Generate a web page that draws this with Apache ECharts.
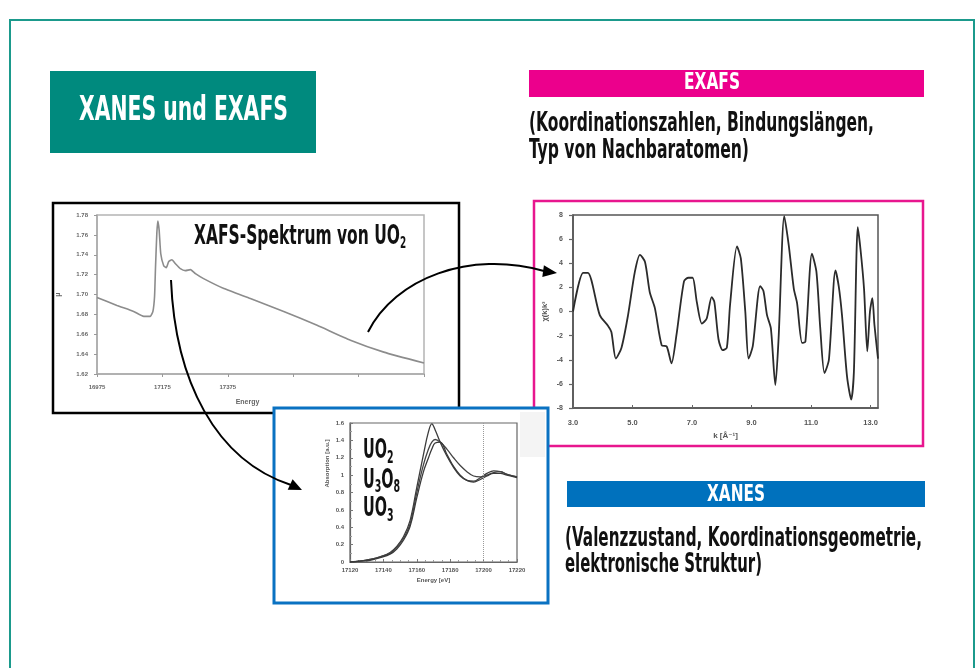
<!DOCTYPE html>
<html>
<head>
<meta charset="utf-8">
<script src="https://cdn.jsdelivr.net/npm/echarts@6/dist/echarts.min.js"></script>
<style>
  html, body { margin: 0; padding: 0; background: #fff; }
  #chart { width: 978px; height: 668px; }
</style>
</head>
<body>
<div id="chart"></div>
<script>
// XAFS spectrum of UO2 (absorption vs. energy)
const xafsEnergy = [16975, 17036, 17087, 17118, 17138, 17146, 17151, 17154, 17158, 17161, 17165, 17170,
  17179, 17187, 17194, 17204, 17215, 17230, 17245, 17261, 17276, 17301, 17363, 17444, 17546, 17648,
  17750, 17852, 17975];
const xafsMu = [1.697, 1.689, 1.683, 1.678, 1.678, 1.683, 1.698, 1.728, 1.762, 1.774, 1.765, 1.741,
  1.729, 1.727, 1.733, 1.735, 1.731, 1.726, 1.724, 1.725, 1.721, 1.716, 1.706, 1.696, 1.683, 1.669,
  1.654, 1.642, 1.631];
const xafsTicks = [16975, 17175, 17375, 17575, 17775, 17975];
const xafsLabels = [16975, 17175, 17375];

// EXAFS oscillations chi(k)*k^3
const exafsK = [3.0, 3.34, 3.5, 3.9, 4.18, 4.29, 4.44, 4.63, 4.85, 5.08, 5.25, 5.42, 5.58, 5.75, 5.98,
  6.15, 6.31, 6.48, 6.73, 6.88, 7.02, 7.16, 7.33, 7.49, 7.66, 7.75, 7.89, 8.03, 8.17, 8.28, 8.51, 8.64,
  8.79, 8.9, 9.04, 9.29, 9.4, 9.52, 9.65, 9.8, 9.91, 10.1, 10.25, 10.42, 10.53, 10.7, 10.81, 11.03,
  11.18, 11.31, 11.45, 11.6, 11.82, 11.93, 12.04, 12.21, 12.35, 12.44, 12.57, 12.66, 12.78, 12.89,
  12.98, 13.06, 13.13, 13.25];
const exafsChi = [0.0, 3.2, 3.2, -0.3, -1.2, -1.7, -3.9, -3.0, -0.3, 3.3, 4.7, 4.1, 1.6, 0.3, -2.8,
  -2.9, -4.3, -1.9, 2.5, 2.8, 2.8, 0.8, -1.0, -0.6, 1.2, 0.8, -2.3, -3.2, -3.0, 0.6, 5.4, 4.4,
  0.0, -3.9, -2.9, 2.1, 1.7, -0.3, -1.4, -6.1, -2.2, 7.9, 5.5, 1.9, 0.7, -2.6, -2.5, 4.8,
  3.3, -1.4, -5.1, -4.0, 3.4, 2.1, -0.3, -5.4, -7.3, -5.0, 7.0, 5.2, 1.9, -3.3,
  0.0, 1.1, -1.1, -3.9];
const exafsTicks = [3, 5, 7, 9, 11, 13];

// XANES edge region of the three uranium oxides
const xanesEnergy = [17120, 17126, 17132, 17138, 17144, 17148, 17152, 17156, 17160, 17164, 17167, 17169,
  17171, 17174, 17178, 17182, 17186, 17190, 17194, 17198, 17202, 17206, 17210, 17214, 17220];
const xanesUO2 = [0, 0.01, 0.03, 0.06, 0.11, 0.18, 0.29, 0.48, 0.86, 1.24, 1.5, 1.59,
  1.52, 1.38, 1.22, 1.09, 0.99, 0.94, 0.93, 0.97, 1.02, 1.05, 1.04, 1.01, 0.98];
const xanesU3O8 = [0, 0.01, 0.03, 0.06, 0.1, 0.17, 0.27, 0.44, 0.8, 1.12, 1.3, 1.38,
  1.41, 1.38, 1.3, 1.2, 1.11, 1.04, 0.99, 0.98, 1.0, 1.03, 1.04, 1.01, 0.98];
const xanesUO3 = [0, 0.01, 0.02, 0.05, 0.09, 0.15, 0.25, 0.41, 0.74, 1.04, 1.2, 1.3,
  1.37, 1.38, 1.24, 1.1, 1.0, 0.94, 0.92, 0.95, 0.99, 1.02, 1.02, 1.0, 0.97];
const xanesRefLine = 17200;

const pairs = (xs, ys) => xs.map((x, i) => [x, ys[i]]);

// --- text helpers: condensed bold headline type, squeezed to a target width
const FONT = '"Liberation Sans Narrow", "DejaVu Sans Condensed", "Arial Narrow", sans-serif';
const AXFONT = '"Liberation Sans", Arial, "DejaVu Sans", sans-serif';
const ctx = document.createElement('canvas').getContext('2d');
function measure(text, size) {
  ctx.font = 'bold ' + size + 'px ' + FONT;
  return ctx.measureText(text).width;
}
function headline(text, x, cy, size, width, color, align) {
  return {
    type: 'text', x: x, y: cy, z: 10,
    scaleX: width / measure(text, size),
    style: { text: text, fontFamily: FONT, fontSize: size, fontWeight: 'bold',
      fill: color, align: align || 'left', verticalAlign: 'middle' }
  };
}
// chemical formula with subscripts; parts alternate between normal and subscript runs
function formula(parts, x, cy, size, subSize, subDy, scale) {
  let off = 0;
  const children = parts.map(p => {
    const s = p.sub ? subSize : size;
    const el = { type: 'text', x: off, y: p.sub ? subDy : 0,
      style: { text: p.t, fontFamily: FONT, fontSize: s, fontWeight: 'bold',
        fill: '#111', align: 'left', verticalAlign: 'middle' } };
    off += measure(p.t, s);
    return el;
  });
  return { type: 'group', x: x, y: cy, z: 10, scaleX: scale, children: children };
}

const titleScale = 206 / measure('XAFS-Spektrum von UO', 27);
const oxideScale = 24 / measure('UO', 26);

function arrowHead(tip, b1, b2) {
  return { type: 'polygon', z: 5, shape: { points: [tip, b1, b2] }, style: { fill: '#000' } };
}

const tinyLabel = { fontFamily: AXFONT, fontSize: 6, color: '#666', fontWeight: 'bold' };
const plain = v => String(v);

const option = {
  animation: false,
  backgroundColor: '#ffffff',
  grid: [
    { left: 97, top: 215, width: 327, height: 159, show: true, borderColor: '#b4b4b4', borderWidth: 1.5 },
    { left: 573, top: 215, width: 305, height: 193, show: true, borderColor: '#555', borderWidth: 1.5 },
    { left: 350, top: 423, width: 167, height: 139, show: true, borderColor: '#666', borderWidth: 1.2 }
  ],
  xAxis: [
    {
      type: 'value', gridIndex: 0, min: 16975, max: 17975,
      name: 'Energy', nameLocation: 'middle', nameGap: 25,
      nameTextStyle: Object.assign({}, tinyLabel, { fontSize: 7, padding: [0, 26, 0, 0] }),
      axisLine: { onZero: false, lineStyle: { color: '#aaa', width: 1.5 } },
      axisTick: { customValues: xafsTicks, length: 3, lineStyle: { color: '#999' } },
      axisLabel: Object.assign({ customValues: xafsLabels, margin: 10, formatter: plain }, tinyLabel),
      splitLine: { show: false }
    },
    {
      type: 'value', gridIndex: 1, min: 3, max: 13.25,
      name: 'k [Å⁻¹]', nameLocation: 'middle', nameGap: 24,
      nameTextStyle: { fontFamily: AXFONT, fontSize: 8, color: '#555', fontWeight: 'bold' },
      axisLine: { onZero: false, lineStyle: { color: '#555', width: 1.5 } },
      axisTick: { customValues: exafsTicks, inside: true, length: 3, lineStyle: { color: '#666' } },
      axisLabel: { customValues: exafsTicks, margin: 11, fontFamily: AXFONT, fontSize: 7.5,
        color: '#555', fontWeight: 'bold', formatter: v => v.toFixed(1) },
      splitLine: { show: false }
    },
    {
      type: 'value', gridIndex: 2, min: 17120, max: 17220, interval: 20,
      name: 'Energy [eV]', nameLocation: 'middle', nameGap: 15,
      nameTextStyle: Object.assign({}, tinyLabel, { color: '#555' }),
      axisLine: { onZero: false, lineStyle: { color: '#666', width: 1.2 } },
      axisTick: { inside: true, length: 3, lineStyle: { color: '#777' } },
      minorTick: { show: true, splitNumber: 4, length: 2, lineStyle: { color: '#999' } },
      axisLabel: Object.assign({ margin: 5, formatter: plain }, tinyLabel, { color: '#555' }),
      splitLine: { show: false }
    }
  ],
  yAxis: [
    {
      type: 'value', gridIndex: 0, min: 1.62, max: 1.78, interval: 0.02,
      name: 'μ', nameLocation: 'middle', nameGap: 35, nameRotate: 90,
      nameTextStyle: Object.assign({}, tinyLabel, { fontSize: 7 }),
      axisLine: { lineStyle: { color: '#aaa', width: 1.5 } },
      axisTick: { show: true, length: 3, lineStyle: { color: '#999' } },
      axisLabel: Object.assign({ margin: 9, formatter: v => v.toFixed(2) }, tinyLabel),
      splitLine: { show: false }
    },
    {
      type: 'value', gridIndex: 1, min: -8, max: 8, interval: 2,
      name: 'χ(k)k³', nameLocation: 'middle', nameGap: 24, nameRotate: 90,
      nameTextStyle: { fontFamily: AXFONT, fontSize: 7.5, color: '#555', fontWeight: 'bold' },
      axisLine: { lineStyle: { color: '#555', width: 1.5 } },
      axisTick: { show: true, length: 4, lineStyle: { color: '#666', width: 1.2 } },
      axisLabel: { margin: 10, fontFamily: AXFONT, fontSize: 7, color: '#555', fontWeight: 'bold' },
      splitLine: { show: false }
    },
    {
      type: 'value', gridIndex: 2, min: 0, max: 1.6, interval: 0.2,
      name: 'Absorption [a.u.]', nameLocation: 'middle', nameGap: 20, nameRotate: 90,
      nameTextStyle: Object.assign({}, tinyLabel, { color: '#555', padding: [0, 0, 0, 58] }),
      axisLine: { lineStyle: { color: '#666', width: 1.2 } },
      axisTick: { inside: true, length: 3, lineStyle: { color: '#777' } },
      minorTick: { show: true, splitNumber: 2, length: 2, lineStyle: { color: '#999' } },
      axisLabel: Object.assign({ margin: 6, formatter: v => String(+v.toFixed(1)) }, tinyLabel, { color: '#555' }),
      splitLine: { show: false }
    }
  ],
  series: [
    {
      name: 'UO₂ XAFS', type: 'line', xAxisIndex: 0, yAxisIndex: 0,
      data: pairs(xafsEnergy, xafsMu), showSymbol: false, smooth: 0.15,
      lineStyle: { color: '#8c8c8c', width: 1.6 }
    },
    {
      name: 'EXAFS', type: 'line', xAxisIndex: 1, yAxisIndex: 1,
      data: pairs(exafsK, exafsChi), showSymbol: false, smooth: 0.25,
      lineStyle: { color: '#2b2b2b', width: 1.8 }
    },
    {
      name: 'UO₂', type: 'line', xAxisIndex: 2, yAxisIndex: 2,
      data: pairs(xanesEnergy, xanesUO2), showSymbol: false, smooth: 0.4,
      lineStyle: { color: '#3c3c3c', width: 1.3 },
      markLine: {
        silent: true, symbol: 'none', label: { show: false },
        lineStyle: { color: '#9a9a9a', type: 'dotted', width: 1 },
        data: [{ xAxis: xanesRefLine }]
      }
    },
    {
      name: 'U₃O₈', type: 'line', xAxisIndex: 2, yAxisIndex: 2,
      data: pairs(xanesEnergy, xanesU3O8), showSymbol: false, smooth: 0.4,
      lineStyle: { color: '#444', width: 1.3 }
    },
    {
      name: 'UO₃', type: 'line', xAxisIndex: 2, yAxisIndex: 2,
      data: pairs(xanesEnergy, xanesUO3), showSymbol: false, smooth: 0.4,
      lineStyle: { color: '#3a3a3a', width: 1.3 }
    }
  ],
  graphic: [
    // outer page frame
    { type: 'rect', z: -3, shape: { x: 10, y: 20, width: 964, height: 670 },
      style: { fill: '#fff', stroke: '#1b9a8c', lineWidth: 2 } },
    // headline box
    { type: 'rect', z: 1, shape: { x: 50, y: 71, width: 266, height: 82 }, style: { fill: '#008a7e' } },
    headline('XANES und EXAFS', 183.5, 111.5, 34, 209, '#fff', 'center'),
    // EXAFS banner and description
    { type: 'rect', z: 1, shape: { x: 529, y: 70, width: 395, height: 27 }, style: { fill: '#ec008c' } },
    headline('EXAFS', 712, 83.5, 23, 56, '#fff', 'center'),
    headline('(Koordinationszahlen, Bindungslängen,', 529, 124, 27, 345, '#111'),
    headline('Typ von Nachbaratomen)', 529, 150.5, 27, 220, '#111'),
    // XANES banner and description
    { type: 'rect', z: 1, shape: { x: 567, y: 481, width: 358, height: 26 }, style: { fill: '#0071bd' } },
    headline('XANES', 736, 495.5, 23, 58, '#fff', 'center'),
    headline('(Valenzzustand, Koordinationsgeometrie,', 565, 539, 26, 357, '#111'),
    headline('elektronische Struktur)', 565, 565, 26, 197, '#111'),
    // frames around the three spectra
    { type: 'rect', z: -2, shape: { x: 53, y: 203, width: 406, height: 210 },
      style: { fill: 'transparent', stroke: '#000', lineWidth: 2.5 } },
    { type: 'rect', z: -2, shape: { x: 534, y: 201, width: 389, height: 245 },
      style: { fill: '#fff', stroke: '#e8168e', lineWidth: 2.5 } },
    { type: 'rect', z: -1, shape: { x: 274, y: 408, width: 274, height: 195 },
      style: { fill: '#fff', stroke: '#0a72c2', lineWidth: 3 } },
    { type: 'rect', z: -1, shape: { x: 520, y: 412, width: 25, height: 45 }, style: { fill: '#f4f4f4' } },
    // captions inside the spectra
    formula([{ t: 'XAFS-Spektrum von UO' }, { t: '2', sub: true }], 194, 237, 27, 15.5, 6.5, titleScale),
    formula([{ t: 'UO' }, { t: '2', sub: true }], 363, 451.5, 26, 17, 7, oxideScale),
    formula([{ t: 'U' }, { t: '3', sub: true }, { t: 'O' }, { t: '8', sub: true }], 363, 481, 26, 17, 7, oxideScale),
    formula([{ t: 'UO' }, { t: '3', sub: true }], 363, 509.5, 26, 17, 7, oxideScale),
    // arrows linking the overview spectrum to its EXAFS and XANES parts
    { type: 'bezierCurve', z: 5,
      shape: { x1: 368, y1: 332, cpx1: 395, cpy1: 278, cpx2: 470, cpy2: 250, x2: 544, y2: 271 },
      style: { stroke: '#000', lineWidth: 2, fill: 'none' } },
    arrowHead([557, 273], [542.3, 277], [543.9, 265.2]),
    { type: 'bezierCurve', z: 5,
      shape: { x1: 171, y1: 280, cpx1: 175, cpy1: 380, cpx2: 215, cpy2: 460, x2: 291, y2: 485 },
      style: { stroke: '#000', lineWidth: 2, fill: 'none' } },
    arrowHead([302, 490], [287.7, 489.7], [292.6, 479.2])
  ]
};

const chart = echarts.init(document.getElementById('chart'), null, { renderer: 'canvas' });
chart.setOption(option);
</script>
</body>
</html>
